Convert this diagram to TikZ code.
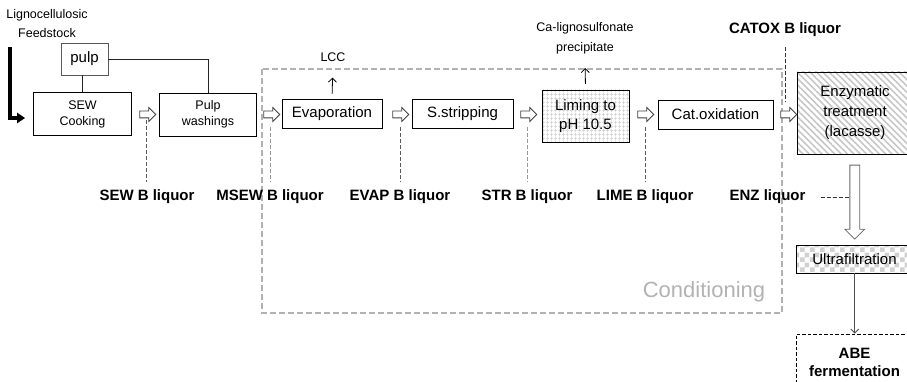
\documentclass[tikz,border=0pt]{standalone}
\usepackage{fontspec}
\setmainfont{Liberation Sans}
\usetikzlibrary{arrows.meta,shapes.arrows,patterns.meta,calc}
\pgfdeclarepattern{
  name=checker,
  type=uncolored,
  bottom left={\pgfpoint{0pt}{0pt}},
  top right={\pgfpoint{10pt}{10pt}},
  tile size={\pgfpoint{10pt}{10pt}},
  code={\pgfpathrectangle{\pgfpointorigin}{\pgfpoint{5pt}{5pt}}\pgfpathrectangle{\pgfpoint{5pt}{5pt}}{\pgfpoint{5pt}{5pt}}\pgfusepath{fill}}
}
\newcommand\myfB{\fontsize{15}{19}\selectfont}
\newcommand\myfE{\fontsize{15}{20}\selectfont}
\newcommand\myfA{\fontsize{15}{18}\selectfont}
\newcommand\myfS{\fontsize{12.5}{16}\selectfont}
\newcommand\myfT{\fontsize{12.5}{20}\selectfont}
\newcommand\myfC{\fontsize{22}{26}\selectfont}
\begin{document}
\begin{tikzpicture}[x=1pt,y=-1pt,
  box/.style={draw=black, line width=0.8pt, inner sep=0pt, align=center, font=\myfB, fill=white},
  smalltxt/.style={inner sep=0pt, align=center, font=\myfT},
  liq/.style={inner sep=0pt, font=\myfB\bfseries},
  blockarr/.style={single arrow, draw=black!75, fill=white, line width=0.8pt, inner sep=3pt,
    minimum height=16pt, single arrow head extend=3.5pt},
  bigarr/.style={single arrow, draw=black!60, fill=white, line width=0.8pt, inner sep=4.5pt,
    minimum height=74pt, single arrow head extend=5pt, shape border rotate=270},
  conn/.style={draw=black!85, line width=0.8pt},
  dashd/.style={line width=0.9pt, dash pattern=on 4pt off 2pt},
  thinarr/.style={line width=0.8pt, -{Straight Barb[length=4pt,width=8pt]}},
  feedarrow/.style={line width=3.5pt, -{Triangle[length=8pt,width=10pt]}},
  condbox/.style={draw=black!30, line width=1.3pt, dash pattern=on 6pt off 3pt}
]
\useasboundingbox (0,0) rectangle (907,382);

% conditioning frame
\draw[condbox] (262,69) rectangle (782,313);
\node[font=\myfC, text=black!30, inner sep=0pt] (condtxt) at (704,292) {Conditioning};

% feedstock
\node[smalltxt, font=\fontsize{12.5}{19}\selectfont] (feed) at (47,23.5) {Lignocellulosic\\Feedstock};
\coordinate (fsa) at (10,47);

% boxes
\node[box, draw=black!65] (pulp) at (84.5,59) [minimum width=47pt, minimum height=32pt] {pulp};
\node[box, font=\myfS] (sew) at (82.5,114) [minimum width=98pt, minimum height=43pt] {SEW\\Cooking};
\node[box, font=\myfS] (wash) at (208,114.5) [minimum width=97pt, minimum height=43pt] {Pulp\\washings};
\node[box] (evap) at (332,113.5) [minimum width=100pt, minimum height=29pt] {Evaporation};
\node[box] (strip) at (462.5,113.5) [minimum width=101pt, minimum height=29pt] {S.stripping};
\node[box, pattern={Hatch[angle=0,distance=4pt,line width=0.4pt]}, pattern color=black!20] (lime) at (585.5,116) [minimum width=87pt, minimum height=52pt] {Liming to\\pH 10.5};
\node[box] (catox) at (715.5,114.5) [minimum width=115pt, minimum height=29pt] {Cat.oxidation};
\node[box, font=\myfE, pattern={Lines[angle=-45,distance=4.5pt,line width=1.6pt]}, pattern color=black!22] (enz) at (855,113) [minimum width=116pt, minimum height=82pt] {Enzymatic\\treatment\\(lacasse)};
\node[box, pattern=checker, pattern color=black!18] (ultra) at (854.5,259) [minimum width=117pt, minimum height=28pt] {Ultrafiltration};
\node[box, font=\myfA\bfseries, dash pattern=on 3.5pt off 2pt] (abe) at (854.5,362) [minimum width=117pt, minimum height=56pt] {ABE\\fermentation};

% block arrows between steps
\node[blockarr] (a1) at (146,114.5) {};
\node[blockarr] (a2) at (270,114.5) {};
\node[blockarr] (a3) at (399,114.5) {};
\node[blockarr] (a4) at (527,114.5) {};
\node[blockarr] (a5) at (644,114.5) {};
\node[blockarr] (a6) at (787,114.5) {};
\node[bigarr] (a7) at ($(enz.south)!0.5!(ultra.north)$) {};

% liquor labels
\node[liq] (lsew) at (147,197) {SEW B liquor};
\node[liq] (lmsew) at (270,197) {MSEW B liquor};
\node[liq] (levap) at (400,197) {EVAP B liquor};
\node[liq] (lstr) at (527,197) {STR B liquor};
\node[liq] (llime) at (645,197) {LIME B liquor};
\node[liq] (lenz) at (767.5,197) {ENZ liquor};
\node[liq] (lcat) at (785,30) {CATOX B liquor};

% side products
\node[smalltxt] (lcc) at (333,57) {LCC};
\node[smalltxt] (calig) at (585,38) {Ca-lignosulfonate\\precipitate};

% connectors
\draw[feedarrow] (fsa) |- ($(sew.west)+(-8,4)$);
\draw[conn] (pulp.south -| sew.north) -- (sew.north);
\draw[conn] (pulp.east) -| (wash.north);
\draw[thinarr, shorten <=5pt, shorten >=16pt] (evap.north) -- (lcc.south);
\draw[thinarr, shorten <=6pt, shorten >=14pt] (lime.north) -- (calig.south);

\draw[dashd, draw=black!65, shorten <=2pt, shorten >=8pt] (a1.south) -- (a1.south |- lsew.north);
\draw[dashd, draw=black!40, shorten <=9pt, shorten >=8pt] (a2.south) -- (lmsew.north);
\draw[dashd, draw=black!65, shorten <=9pt, shorten >=8pt] (a3.south -| levap.north) -- (levap.north);
\draw[dashd, draw=black!40, shorten <=9pt, shorten >=8pt] (a4.south) -- (lstr.north);
\draw[dashd, draw=black!65, shorten <=9pt, shorten >=8pt] (a5.south -| llime.north) -- (llime.north);
\draw[dashd, draw=black!80, shorten <=10pt, shorten >=9pt] (lcat.south) -- (lcat.south |- a6.north);
\draw[dashd, draw=black!80, shorten <=15pt, shorten >=4.5pt] (lenz.east) -- (lenz.east -| a7.center);
\draw[line width=0.8pt, draw=black!70, -{Straight Barb[length=4pt,width=8pt]}] (ultra.south -| a7.center) -- (abe.north -| a7.center);
\end{tikzpicture}
\end{document}
